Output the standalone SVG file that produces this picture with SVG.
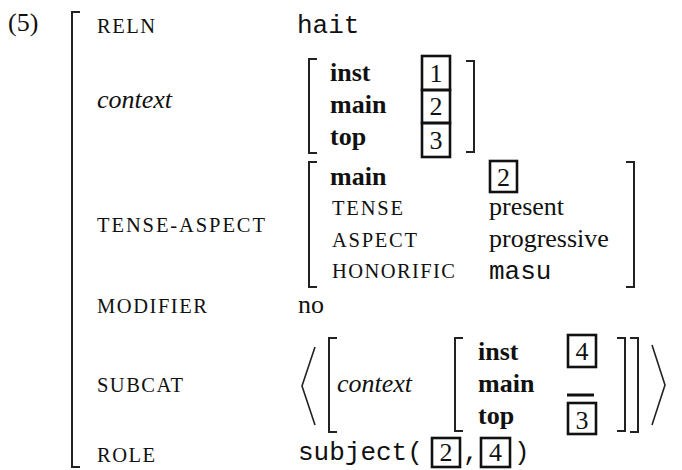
<svg xmlns="http://www.w3.org/2000/svg" width="682" height="470" viewBox="0 0 682 470">
<style>
text{font-family:"Liberation Serif","Times New Roman",serif;font-size:26px;fill:#111}
.sc{font-size:20.5px}
.b{font-weight:bold}
.i{font-style:italic}
.m{font-family:"Liberation Mono","Courier New",monospace;font-size:26px}
.d{text-anchor:middle}
.br{fill:none;stroke:#222;stroke-width:2}
.bx{fill:none;stroke:#111;stroke-width:2.6}
.ang{fill:none;stroke:#222;stroke-width:1.6}
</style>
<rect width="682" height="470" fill="#fff"/>
<text x="8" y="31">(5)</text>
<path class="br" d="M80,12H72V467H80"/>
<text class="sc" x="97" y="33" textLength="58" lengthAdjust="spacing">RELN</text>
<text class="m" x="297" y="33">hait</text>
<text class="i" x="97" y="108">context</text>
<path class="br" d="M317,59H309V153H317"/>
<path class="br" d="M466,61H474V152H466"/>
<text class="b" x="330" y="81">inst</text>
<text class="b" x="330" y="113">main</text>
<text class="b" x="330" y="145">top</text>
<rect class="bx" x="422" y="56" width="28" height="34" stroke-width="3"/>
<rect class="bx" x="422" y="90" width="28" height="33" stroke-width="3"/>
<rect class="bx" x="422" y="123" width="28" height="34" stroke-width="3"/>
<text class="d" x="436" y="82">1</text>
<text class="d" x="436" y="115">2</text>
<text class="d" x="436" y="149">3</text>
<text class="sc" x="97" y="232" textLength="168" lengthAdjust="spacing">TENSE-ASPECT</text>
<path class="br" d="M317,162H309V287H317"/>
<path class="br" d="M626,162H634V287H626"/>
<text class="b" x="330" y="185">main</text>
<rect class="bx" x="490" y="161" width="27" height="31"/>
<text class="d" x="503.5" y="186">2</text>
<text class="sc" x="332" y="215" textLength="71" lengthAdjust="spacing">TENSE</text>
<text x="489" y="215">present</text>
<text class="sc" x="332" y="247" textLength="85" lengthAdjust="spacing">ASPECT</text>
<text x="489" y="247">progressive</text>
<text class="sc" x="332" y="278" textLength="123" lengthAdjust="spacing">HONORIFIC</text>
<text class="m" x="489" y="279">masu</text>
<text class="sc" x="97" y="313" textLength="110" lengthAdjust="spacing">MODIFIER</text>
<text x="298" y="313">no</text>
<text class="sc" x="97" y="392" textLength="86" lengthAdjust="spacing">SUBCAT</text>
<path class="ang" d="M315,347L302,386L315,425"/>
<path class="br" d="M337,338H329V432H337"/>
<text class="i" x="337" y="392">context</text>
<path class="br" d="M463,338H455V431H463"/>
<text class="b" x="478" y="360">inst</text>
<text class="b" x="478" y="392">main</text>
<text class="b" x="478" y="424">top</text>
<rect class="bx" x="568" y="335" width="28" height="32"/>
<text class="d" x="582" y="360">4</text>
<path d="M567,395H594" stroke="#111" stroke-width="3"/>
<rect class="bx" x="568" y="403" width="28" height="31"/>
<text class="d" x="582" y="429">3</text>
<path class="br" d="M617,338H625V431H617"/>
<path class="br" d="M630,338H638V432H630"/>
<path class="ang" d="M652,345L665,385L652,425"/>
<text class="sc" x="97" y="462" textLength="58" lengthAdjust="spacing">ROLE</text>
<text class="m" x="298" y="460">subject(</text>
<rect class="bx" x="432" y="438" width="28" height="29"/>
<text class="d" x="446" y="461">2</text>
<text class="m" x="463" y="460">,</text>
<rect class="bx" x="481" y="438" width="29" height="29"/>
<text class="d" x="495.5" y="461">4</text>
<text class="m" x="514" y="460">)</text>
</svg>
